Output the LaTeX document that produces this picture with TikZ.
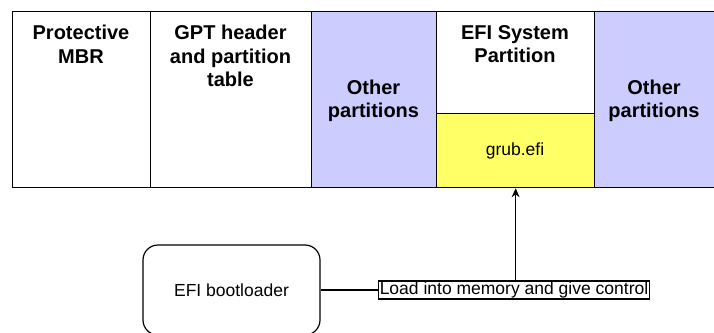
\documentclass[tikz,border=0pt]{standalone}
\usepackage{fontspec}
\setmainfont{Liberation Sans}
\definecolor{p_purple}{HTML}{CCCCFF}
\definecolor{p_yellow}{HTML}{FFFF66}
\usetikzlibrary{positioning,arrows.meta}

\begin{document}
\begin{tikzpicture}[
    x=1pt, y=-1pt,
    every node/.style={inner sep=0pt},
    part/.style={draw, line width=1.3pt, anchor=north west, minimum height=176pt},
    title/.style={font=\fontsize{20}{23.5}\selectfont\bfseries, align=center},
    plain/.style={font=\fontsize{17.5}{20}\selectfont},
    bootbox/.style={draw, line width=1.2pt, rounded corners=15pt, minimum width=177pt, minimum height=90pt},
    lblbox/.style={draw, line width=1.8pt, fill=white, inner sep=1.2pt}]
]
    \useasboundingbox (0,0) rectangle (714,332);

    % the disk
    \node[part, minimum width=138pt] (mbr) at (12,11) {};
    \node[part, minimum width=161pt] (gpt) at (150,11) {};
    \node[part, minimum width=125pt, fill=p_purple] (other1) at (311,11) {};
    \node[part, minimum width=158pt] (esp) at (436,11) {};
    \node[part, minimum width=126pt, fill=p_purple] (other2) at (594,11) {};
    \node[draw, line width=1.3pt, fill=p_yellow, anchor=north west,
          minimum width=158pt, minimum height=74pt] (grub) at (436,113) {};

    \node[title, anchor=north] (mbrtxt) at (81,25) {Protective\\MBR};
    \node[title, anchor=north] (gpttxt) at (230.5,25) {GPT header\\and partition\\table};
    \node[title] (other1txt) at (373.5,101) {Other\\partitions};
    \node[title, anchor=north] (esptxt) at (515,25) {EFI System\\Partition};
    \node[title] (other2txt) at (654,101) {Other\\partitions};
    \node[plain] (grubtxt) at (515,151) {grub.efi};

    % the loader
    \node[bootbox, plain] (boot) at (231.5,290) {EFI bootloader};
    \node[lblbox, plain] (lbl) at (514,290) {Load into memory and give control};

    \draw[line width=1.2pt] (boot.east) -- (lbl.west);
    \draw[line width=1.2pt, -{Stealth[length=9pt, width=8pt]}] (lbl.north -| grub.south) -- (grub.south);
\end{tikzpicture}
\end{document}
